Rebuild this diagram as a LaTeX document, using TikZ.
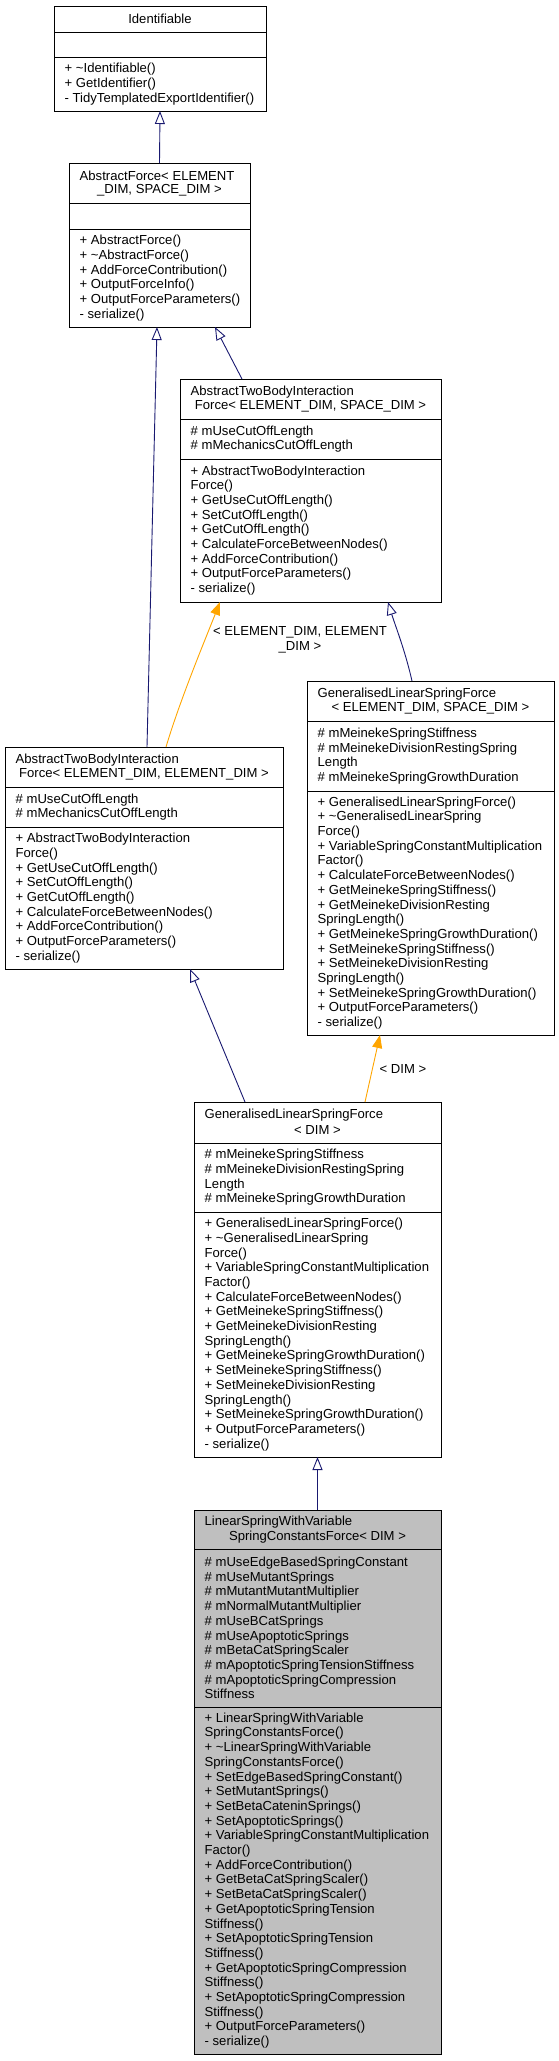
\documentclass[tikz,border=0pt]{standalone}
\usepackage{fontspec}
\setmainfont{Liberation Sans}
\usetikzlibrary{arrows.meta,calc}
\definecolor{edgeblue}{HTML}{191970}
\definecolor{edgeorange}{HTML}{FFA500}
\definecolor{boxgrey}{HTML}{BFBFBF}
\newcommand\umlfont{\fontsize{13.1}{14.7}\selectfont}
\begin{document}
\begin{tikzpicture}[x=1pt,y=-1pt,
  umlbox/.style={draw=black, line width=1pt, anchor=north west, inner sep=0pt, outer sep=0pt},
  divider/.style={draw=black, line width=1pt},
  members/.style={anchor=west, align=left, inner sep=0pt, font=\umlfont},
  headl/.style={anchor=west, inner sep=0pt, font=\umlfont},
  headc/.style={anchor=center, inner sep=0pt, font=\umlfont},
  edgelabel/.style={anchor=center, align=center, inner sep=0pt, font=\umlfont},
  inherit/.style={draw=edgeblue, line width=0.9pt, -{Triangle[open, length=13pt, width=10pt]}},
  templ/.style={draw=edgeorange, line width=0.9pt, -{Triangle[length=13pt, width=10pt]}}
]
\useasboundingbox (0,0) rectangle (559,2061);

% ---------------- Identifiable
\node[umlbox, minimum width=212pt, minimum height=105pt] (ident) at (54,6) {};
\draw[divider] (ident.west |- 0,32) -- (ident.east |- 0,32);
\draw[divider] (ident.west |- 0,57) -- (ident.east |- 0,57);
\node[headc] (ident-h) at (160,19) {Identifiable};
\node[members] (ident-m) at (64.5,84) {+ \textasciitilde Identifiable()\\+ GetIdentifier()\\- TidyTemplatedExportIdentifier()};

% ---------------- AbstractForce
\node[umlbox, minimum width=181pt, minimum height=164pt] (af) at (69,163) {};
\draw[divider] (af.west |- 0,203) -- (af.east |- 0,203);
\draw[divider] (af.west |- 0,229) -- (af.east |- 0,229);
\node[headl] (af-h1) at (79.5,175.65) {AbstractForce< ELEMENT};
\node[headc] (af-h2) at (159.5,190.35) {\_DIM, SPACE\_DIM >};
\node[members] (af-m) at (79.5,278) {+ AbstractForce()\\+ \textasciitilde AbstractForce()\\+ AddForceContribution()\\+ OutputForceInfo()\\+ OutputForceParameters()\\- serialize()};

% ---------------- AbstractTwoBodyInteractionForce< ELEMENT_DIM, SPACE_DIM >
\node[umlbox, minimum width=261pt, minimum height=223pt] (atbs) at (180,379) {};
\draw[divider] (atbs.west |- 0,419) -- (atbs.east |- 0,419);
\draw[divider] (atbs.west |- 0,459) -- (atbs.east |- 0,459);
\node[headl] (atbs-h1) at (190.5,391.65) {AbstractTwoBodyInteraction};
\node[headc] (atbs-h2) at (310.5,406.35) {Force< ELEMENT\_DIM, SPACE\_DIM >};
\node[members] (atbs-a) at (190.5,439) {\# mUseCutOffLength\\\# mMechanicsCutOffLength};
\node[members] (atbs-m) at (190.5,530.5) {+ AbstractTwoBodyInteraction\\Force()\\+ GetUseCutOffLength()\\+ SetCutOffLength()\\+ GetCutOffLength()\\+ CalculateForceBetweenNodes()\\+ AddForceContribution()\\+ OutputForceParameters()\\- serialize()};

% ---------------- AbstractTwoBodyInteractionForce< ELEMENT_DIM, ELEMENT_DIM >
\node[umlbox, minimum width=278pt, minimum height=222pt] (atbe) at (5,747) {};
\draw[divider] (atbe.west |- 0,787) -- (atbe.east |- 0,787);
\draw[divider] (atbe.west |- 0,827) -- (atbe.east |- 0,827);
\node[headl] (atbe-h1) at (15.5,759.65) {AbstractTwoBodyInteraction};
\node[headc] (atbe-h2) at (144,774.35) {Force< ELEMENT\_DIM, ELEMENT\_DIM >};
\node[members] (atbe-a) at (15.5,807) {\# mUseCutOffLength\\\# mMechanicsCutOffLength};
\node[members] (atbe-m) at (15.5,898) {+ AbstractTwoBodyInteraction\\Force()\\+ GetUseCutOffLength()\\+ SetCutOffLength()\\+ GetCutOffLength()\\+ CalculateForceBetweenNodes()\\+ AddForceContribution()\\+ OutputForceParameters()\\- serialize()};

% ---------------- GeneralisedLinearSpringForce< ELEMENT_DIM, SPACE_DIM >
\node[umlbox, minimum width=247pt, minimum height=354pt] (glsfes) at (307,681) {};
\draw[divider] (glsfes.west |- 0,721) -- (glsfes.east |- 0,721);
\draw[divider] (glsfes.west |- 0,791) -- (glsfes.east |- 0,791);
\node[headl] (glsfes-h1) at (317.5,693.65) {GeneralisedLinearSpringForce};
\node[headc] (glsfes-h2) at (430.5,708.35) {< ELEMENT\_DIM, SPACE\_DIM >};
\node[members] (glsfes-a) at (317.5,756) {\# mMeinekeSpringStiffness\\\# mMeinekeDivisionRestingSpring\\Length\\\# mMeinekeSpringGrowthDuration};
\node[members] (glsfes-m) at (317.5,913) {+ GeneralisedLinearSpringForce()\\+ \textasciitilde GeneralisedLinearSpring\\Force()\\+ VariableSpringConstantMultiplication\\Factor()\\+ CalculateForceBetweenNodes()\\+ GetMeinekeSpringStiffness()\\+ GetMeinekeDivisionResting\\SpringLength()\\+ GetMeinekeSpringGrowthDuration()\\+ SetMeinekeSpringStiffness()\\+ SetMeinekeDivisionResting\\SpringLength()\\+ SetMeinekeSpringGrowthDuration()\\+ OutputForceParameters()\\- serialize()};

% ---------------- GeneralisedLinearSpringForce< DIM >
\node[umlbox, minimum width=247pt, minimum height=355pt] (glsfd) at (194,1102) {};
\draw[divider] (glsfd.west |- 0,1143) -- (glsfd.east |- 0,1143);
\draw[divider] (glsfd.west |- 0,1212) -- (glsfd.east |- 0,1212);
\node[headl] (glsfd-h1) at (204.5,1115.15) {GeneralisedLinearSpringForce};
\node[headc] (glsfd-h2) at (317.5,1129.85) {< DIM >};
\node[members] (glsfd-a) at (204.5,1177.5) {\# mMeinekeSpringStiffness\\\# mMeinekeDivisionRestingSpring\\Length\\\# mMeinekeSpringGrowthDuration};
\node[members] (glsfd-m) at (204.5,1334.5) {+ GeneralisedLinearSpringForce()\\+ \textasciitilde GeneralisedLinearSpring\\Force()\\+ VariableSpringConstantMultiplication\\Factor()\\+ CalculateForceBetweenNodes()\\+ GetMeinekeSpringStiffness()\\+ GetMeinekeDivisionResting\\SpringLength()\\+ GetMeinekeSpringGrowthDuration()\\+ SetMeinekeSpringStiffness()\\+ SetMeinekeDivisionResting\\SpringLength()\\+ SetMeinekeSpringGrowthDuration()\\+ OutputForceParameters()\\- serialize()};

% ---------------- LinearSpringWithVariableSpringConstantsForce< DIM >
\node[umlbox, fill=boxgrey, minimum width=247pt, minimum height=544pt] (linear) at (194,1510) {};
\draw[divider] (linear.west |- 0,1549) -- (linear.east |- 0,1549);
\draw[divider] (linear.west |- 0,1707) -- (linear.east |- 0,1707);
\node[headl] (linear-h1) at (204.5,1522.15) {LinearSpringWithVariable};
\node[headc] (linear-h2) at (317.5,1536.85) {SpringConstantsForce< DIM >};
\node[members] (linear-a) at (204.5,1628) {\# mUseEdgeBasedSpringConstant\\\# mUseMutantSprings\\\# mMutantMutantMultiplier\\\# mNormalMutantMultiplier\\\# mUseBCatSprings\\\# mUseApoptoticSprings\\\# mBetaCatSpringScaler\\\# mApoptoticSpringTensionStiffness\\\# mApoptoticSpringCompression\\Stiffness};
\node[members] (linear-m) at (204.5,1880.5) {+ LinearSpringWithVariable\\SpringConstantsForce()\\+ \textasciitilde LinearSpringWithVariable\\SpringConstantsForce()\\+ SetEdgeBasedSpringConstant()\\+ SetMutantSprings()\\+ SetBetaCateninSprings()\\+ SetApoptoticSprings()\\+ VariableSpringConstantMultiplication\\Factor()\\+ AddForceContribution()\\+ GetBetaCatSpringScaler()\\+ SetBetaCatSpringScaler()\\+ GetApoptoticSpringTension\\Stiffness()\\+ SetApoptoticSpringTension\\Stiffness()\\+ GetApoptoticSpringCompression\\Stiffness()\\+ SetApoptoticSpringCompression\\Stiffness()\\+ OutputForceParameters()\\- serialize()};

% ---------------- connectors
\draw[inherit] (af.north) -- (ident.south);
\draw[inherit] ($(atbe.north west)+(142,0)$) -- ($(af.south west)+(88,0)$);
\draw[inherit] ($(atbs.north west)+(62,0)$) -- ($(af.south west)+(146,0)$);
\draw[templ] ($(atbe.north west)+(161,0)$) .. controls (180,700) and (205,640) .. ($(atbs.south west)+(40,0)$);
\node[edgelabel] (lbl-ee) at (300,640) {< ELEMENT\_DIM, ELEMENT\\\_DIM >};
\draw[inherit] ($(glsfes.north west)+(105,0)$) .. controls (405,650) and (395,625) .. ($(atbs.south west)+(208,0)$);
\draw[inherit] ($(glsfd.north west)+(51,0)$) -- ($(atbe.south west)+(185,0)$);
\draw[templ] ($(glsfd.north west)+(171,0)$) -- ($(glsfes.south west)+(73,0)$);
\node[edgelabel] (lbl-d) at (403,1069) {< DIM >};
\draw[inherit] (linear.north) -- (glsfd.south);
\end{tikzpicture}
\end{document}
